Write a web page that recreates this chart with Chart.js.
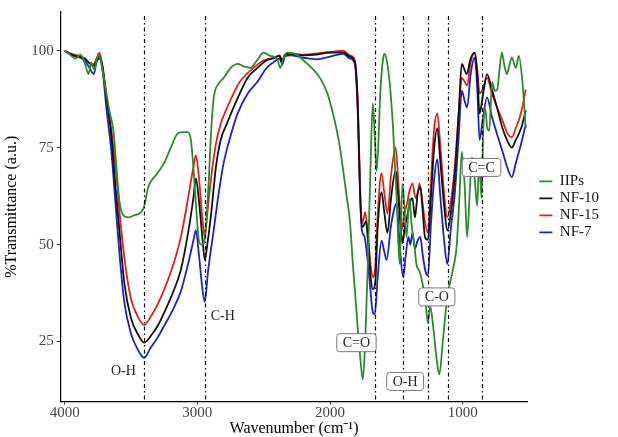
<!DOCTYPE html>
<html>
<head>
<meta charset="utf-8">
<script src="https://cdn.jsdelivr.net/npm/chart.js@4.4.0/dist/chart.umd.min.js"></script>
<style>
  html, body { margin: 0; padding: 0; background: #fff; }
  #wrap { width: 618px; height: 437px; }
</style>
</head>
<body>
<div id="wrap"><canvas id="ftir" width="618" height="437"></canvas></div>
<script>
// Espectros FTIR (numero de onda en cm-1, %T)
const iipsWn = [4000,3960,3920,3880,3850,3820,3800,3775,3760,3738,3715,3690,3660,3633,3610,3596,3575,3521,3480,3423,3400,3371,3310,3251,3200,3146,3100,3071,3049,3030,3011,2989,2970,2951,2935,2914,2895,2876,2840,2802,2750,2697,2650,2600,2550,2502,2450,2400,2375,2350,2322,2250,2200,2150,2076,2020,1978,1930,1873,1850,1828,1790,1770,1753,1735,1715,1695,1678,1663,1648,1620,1600,1588,1570,1551,1525,1498,1476,1454,1440,1424,1401,1385,1365,1349,1325,1303,1280,1262,1245,1220,1195,1176,1150,1116,1079,1045,1025,1007,985,967,945,930,910,891,875,858,845,830,815,800,778,760,740,720,705,685,667,650,630,600,577,550,525];
const iipsT = [100,99,98,99,97,94,97,95,97.5,99,95,90,84,79.4,70,64,58.9,57,57.5,58.4,60,64.8,68,71,75,78.7,79,79,77,70,60.6,51.2,50,50.4,55,66.6,80,88,91.5,93,95.5,96.6,96,95.6,97.5,99.5,98.7,98,95.6,98,99.5,99,97.5,96,93,89,83.8,76,62,56,45,28,20,15.2,25,45,70,86.4,78,69,90,98,99.2,97,92,80,62,45,65.8,60,52,62,55,50,45,43,40,35,29.8,34,28,20,16.5,25,36.5,42.7,50,62,74,65,52,65,72.5,67,60,72,62,80,85,80,79.4,92,89.7,90,96,99.5,96,94,96,98.2,95.6,98.7,92,80];

const nf10Wn = [4000,3950,3900,3850,3820,3780,3760,3738,3715,3685,3648,3620,3588,3550,3500,3450,3401,3350,3300,3251,3180,3124,3070,3030,3011,2990,2960,2944,2925,2899,2860,2824,2780,2727,2680,2622,2550,2480,2427,2380,2360,2340,2300,2200,2100,2000,1900,1850,1813,1790,1775,1760,1745,1730,1712,1695,1678,1660,1640,1612,1590,1567,1540,1506,1480,1454,1435,1420,1400,1379,1360,1340,1320,1300,1285,1262,1240,1215,1191,1170,1140,1116,1090,1060,1030,1007,985,970,940,910,890,873,850,817,780,742,700,660,630,600,560,525];
const nf10T = [100,99,98.5,98,97,96,97.5,98.5,96,88,78,66,53.7,40,31,27,24.7,26.5,29,32.4,38,43.5,53,62,67.1,62,51,46,50,57,70,77,81,85.4,89,93,95.5,97.5,98,98.7,97,99,99.2,98.8,99,99.5,99.5,98.5,97,85,65,54.5,55,56,50,42,38.5,40,55,63.5,58,53,62,69,60,50.4,55,57,60.6,62,57,63,64.8,58,52,51.2,62,75,80,72,60,53.7,58,68,84,96.6,95,94,98,99.5,94,83.8,88,94,90,85.4,80,76.5,75,77,80,84.6];

const nf15Wn = [4000,3950,3900,3850,3820,3780,3760,3738,3715,3685,3648,3610,3580,3540,3500,3450,3401,3350,3300,3251,3180,3124,3070,3030,3011,2990,2960,2944,2925,2899,2860,2824,2780,2727,2680,2577,2500,2427,2380,2360,2340,2300,2200,2100,2000,1900,1850,1813,1790,1775,1760,1745,1735,1715,1695,1678,1660,1640,1612,1590,1567,1540,1506,1480,1461,1440,1420,1400,1379,1355,1335,1326,1300,1285,1262,1240,1215,1191,1170,1140,1116,1090,1060,1030,1007,985,967,940,910,890,873,850,817,780,742,700,660,630,600,560,525];
const nf15T = [100,99.2,98.8,98,97,96.5,98,99.5,96,88,79.4,68,56,44,36,31.5,29.3,31.5,34.5,38.3,45,52,62,70,73,68,56,52,58,66.6,76,81.2,85,89,92,95.6,97.5,98.2,98.8,97.5,99,99.3,99,99.3,99.7,100,98.8,97.5,86,67,55.5,57,58.4,53,45,41.6,44,58,68.4,63,58,68,75,63,53.7,58,60.6,64,65.8,62,64,65.8,60,56,53,66,80,83.8,76,63,57,61,70,84,93,92,91,97,99.5,95,89,90,93,89,85.5,82,78.5,77.7,80,84,90];

const nf7Wn = [4000,3950,3900,3850,3820,3780,3760,3738,3715,3685,3648,3620,3588,3550,3500,3450,3401,3350,3300,3251,3180,3124,3070,3030,3011,2990,2960,2944,2920,2877,2840,2802,2750,2697,2620,2547,2480,2427,2380,2360,2340,2300,2200,2100,2000,1900,1850,1813,1790,1775,1760,1740,1720,1700,1680,1663,1640,1612,1590,1574,1540,1498,1475,1449,1430,1410,1395,1379,1360,1340,1320,1300,1280,1262,1240,1215,1191,1170,1140,1116,1090,1060,1030,1007,985,967,940,910,890,873,850,817,780,742,700,660,630,600,560,525];
const nf7T = [100,99,98.5,97.5,96,94,97,98,95,85,74,62,48,35,27,23,20.8,23.5,26,29,33.5,38,45,51,53.7,48,38,35.2,43,53.7,63,71,78,83.8,89,92,95.5,97,98,96.5,98.5,98.8,98.2,97.8,98.5,99.2,98,96.6,83,64,53.7,52,47,40,33,32,42,51,48,46,55,60.6,50,41.6,47,52,50,53,49,51,52,47,43,42,55,67,72,63,51,45,54,63,78,89.7,87,85.4,94,98.2,90,77,82,88,83,78.6,74,69.5,67.4,71,76,81];

const seriesNames = ['IIPs', 'NF-10', 'NF-15', 'NF-7'];
const seriesColors = ['#2b8a2b', '#111111', '#e0201c', '#1c22c8'];

// Marcas de bandas y etiquetas
const bandLines = [3400, 2944, 1663, 1450, 1262, 1112, 858];
const plainLabels = [
  { text: 'O-H', wn: 3558, t: 17.2 },
  { text: 'C-H', wn: 2809, t: 31.6 }
];
const boxLabels = [
  { text: 'C=O', wn: 1801, t: 24.7 },
  { text: 'O-H', wn: 1434, t: 14.7 },
  { text: 'C-O', wn: 1195, t: 36.5 },
  { text: 'C=C', wn: 858, t: 69.9 }
];

const xTicks = [1000, 2000, 3000, 4000];
const yTicks = [25, 50, 75, 100];

const FONT = "'Liberation Serif', 'Times New Roman', serif";

function toPoints(wn, t) {
  return wn.map((w, i) => ({ x: w, y: t[i] }));
}

const allWn = [iipsWn, nf10Wn, nf15Wn, nf7Wn];
const allT = [iipsT, nf10T, nf15T, nf7T];

// Dibuja las lineas discontinuas y los rotulos de las bandas
const bandPlugin = {
  id: 'bands',
  afterDatasetsDraw(chart) {
    const ctx = chart.ctx;
    const xs = chart.scales.x;
    const ys = chart.scales.y;
    const area = chart.chartArea;

    ctx.save();
    ctx.strokeStyle = '#000';
    ctx.lineWidth = 1.2;
    ctx.setLineDash([4, 3, 1.5, 3]);
    bandLines.forEach(wn => {
      const px = Math.round(xs.getPixelForValue(wn)) + 0.5;
      ctx.beginPath();
      ctx.moveTo(px, ys.getPixelForValue(109));
      ctx.lineTo(px, area.bottom);
      ctx.stroke();
    });
    ctx.setLineDash([]);

    ctx.font = '14px ' + FONT;
    ctx.textAlign = 'center';
    ctx.textBaseline = 'middle';
    ctx.fillStyle = '#222';
    plainLabels.forEach(lb => {
      ctx.fillText(lb.text, xs.getPixelForValue(lb.wn), ys.getPixelForValue(lb.t));
    });

    boxLabels.forEach(lb => {
      const cx = xs.getPixelForValue(lb.wn);
      const cy = ys.getPixelForValue(lb.t);
      const w = ctx.measureText(lb.text).width + 12;
      const h = 18;
      ctx.beginPath();
      ctx.roundRect(cx - w / 2, cy - h / 2, w, h, 3);
      ctx.fillStyle = '#fff';
      ctx.fill();
      ctx.strokeStyle = '#777';
      ctx.lineWidth = 1;
      ctx.stroke();
      ctx.fillStyle = '#222';
      ctx.fillText(lb.text, cx, cy + 0.5);
    });
    ctx.restore();
  }
};

new Chart(document.getElementById('ftir'), {
  type: 'line',
  data: {
    datasets: seriesNames.map((name, i) => ({
      label: name,
      data: toPoints(allWn[i], allT[i]),
      borderColor: seriesColors[i],
      backgroundColor: seriesColors[i],
      borderWidth: 1.8,
      pointRadius: 0,
      fill: false,
      cubicInterpolationMode: 'monotone'
    }))
  },
  options: {
    responsive: false,
    animation: false,
    layout: { padding: { top: 10, right: 9, left: 2, bottom: 1 } },
    plugins: {
      legend: {
        position: 'right',
        fullSize: false,
        labels: {
          font: { family: FONT, size: 15 },
          color: '#111',
          usePointStyle: true,
          pointStyle: 'line',
          pointStyleWidth: 13,
          boxHeight: 13,
          padding: 2
        }
      },
      tooltip: { enabled: false }
    },
    scales: {
      x: {
        type: 'linear',
        reverse: true,
        min: 513,
        max: 4030,
        afterBuildTicks: scale => { scale.ticks = xTicks.map(v => ({ value: v })); },
        grid: { drawOnChartArea: false, color: '#333', tickLength: 3 },
        border: { color: '#000', width: 1.2 },
        ticks: { font: { family: FONT, size: 15, lineHeight: 1 }, color: '#444', padding: 1, callback: v => String(v) },
        title: { display: true, text: 'Wavenumber (cm⁻¹)', font: { family: FONT, size: 16, lineHeight: 0.9 }, color: '#000', padding: { top: 0, bottom: 0 } }
      },
      y: {
        min: 9.5,
        max: 110,
        afterBuildTicks: scale => { scale.ticks = yTicks.map(v => ({ value: v })); },
        grid: { drawOnChartArea: false, color: '#333', tickLength: 4 },
        border: { color: '#000', width: 1.2 },
        ticks: { font: { family: FONT, size: 15 }, color: '#444', padding: 3, callback: v => String(v) },
        title: { display: true, text: '%Transmittance (a.u.)', font: { family: FONT, size: 16 }, color: '#000', padding: { top: 0, bottom: 7 } }
      },
      // Eje vacio a la derecha: solo deja hueco entre el panel y la leyenda
      gap: {
        position: 'right',
        display: true,
        grid: { display: false, drawTicks: false },
        border: { display: false },
        ticks: { display: false },
        afterFit: scale => { scale.width = 10; }
      }
    }
  },
  plugins: [bandPlugin]
});
</script>
</body>
</html>
